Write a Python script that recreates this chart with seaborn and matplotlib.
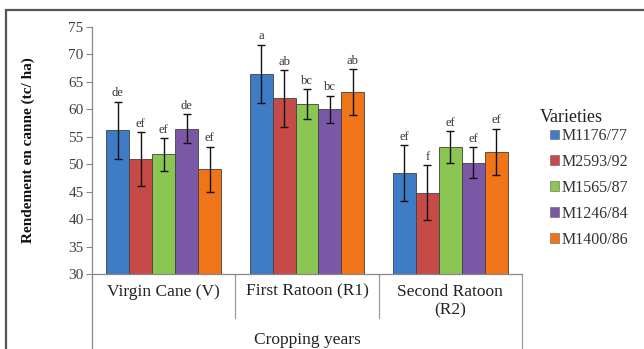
import matplotlib
matplotlib.use("Agg")
import matplotlib.pyplot as plt
import seaborn as sns
import pandas as pd
import numpy as np
from matplotlib.patches import Rectangle, Patch
import matplotlib.transforms as mtransforms

years = ["Virgin Cane (V)", "First Ratoon (R1)", "Second Ratoon\n(R2)"]
varieties = ["M1176/77", "M2593/92", "M1565/87", "M1246/84", "M1400/86"]
# yield per variety, in order of years
m1176 = [56.2, 66.5, 48.4]
m2593 = [50.9, 62.0, 44.8]
m1565 = [51.8, 61.0, 53.2]
m1246 = [56.5, 60.0, 50.3]
m1400 = [49.1, 63.2, 52.3]
# error (half-length)
e1176 = [5.2, 5.3, 5.1]
e2593 = [4.9, 5.2, 5.0]
e1565 = [3.0, 2.7, 2.9]
e1246 = [2.7, 2.5, 2.8]
e1400 = [4.1, 4.2, 4.2]
# significance letters
l1176 = ["de", "a", "ef"]
l2593 = ["ef", "ab", "f"]
l1565 = ["ef", "bc", "ef"]
l1246 = ["de", "bc", "ef"]
l1400 = ["ef", "ab", "ef"]

values = [m1176, m2593, m1565, m1246, m1400]
errors = [e1176, e2593, e1565, e1246, e1400]
letters = [l1176, l2593, l1565, l1246, l1400]

rows = []
for v, vals in zip(varieties, values):
    for y, val in zip(years, vals):
        rows.append({"year": y, "variety": v, "value": val})
df = pd.DataFrame(rows)

colors = ["#3F7CC6", "#C64A47", "#8BC653", "#7B58A6", "#F07418"]

sns.set_theme(style="white")
plt.rcParams["font.family"] = ["Liberation Serif", "DejaVu Serif"]

fig = plt.figure(figsize=(6.44, 3.49), dpi=100)
L, R, B, T = 92, 522, 274, 27
ax = fig.add_axes([L / 644, 1 - B / 349, (R - L) / 644, (B - T) / 349])

sns.barplot(data=df, x="year", y="value", hue="variety", order=years,
            hue_order=varieties, palette=colors, saturation=1, errorbar=None,
            width=0.8, gap=0, edgecolor="#404040", linewidth=0.6,
            legend=False, ax=ax)

for cont, errs, labs in zip(ax.containers, errors, letters):
    for bar, err, lab in zip(cont, errs, labs):
        xc = bar.get_x() + bar.get_width() / 2
        h = bar.get_height()
        ax.errorbar(xc, h, yerr=err, fmt="none", ecolor="#111111",
                    elinewidth=1.0, capsize=3, capthick=1.0)
        ax.text(xc, h + err + 0.4, lab, ha="center", va="bottom",
                fontsize=9, color="#333333")

ax.set_ylim(30, 75)
ax.set_xlim(-0.5, 2.5)
ax.set_yticks(np.arange(30, 76, 5))
ax.tick_params(axis="y", which="both", left=True, length=4, width=0.8,
               color="#888888", labelsize=11, labelcolor="#404040", pad=2)
ax.tick_params(axis="x", length=0, labelsize=12.5, labelcolor="#222222", pad=7)
ax.set_xlabel("")
ax.set_ylabel("Rendement en canne (tc/ ha)", fontsize=11, fontweight="bold",
              color="#111111")
ax.yaxis.set_label_coords(-0.133, 0.5)

for s in ["top", "right"]:
    ax.spines[s].set_visible(False)
ax.spines["left"].set_color("#888888")
ax.spines["bottom"].set_color("#888888")
ax.spines["left"].set_linewidth(0.9)
ax.spines["bottom"].set_linewidth(0.9)

# multi-level category axis lines
tr = mtransforms.blended_transform_factory(ax.transData, ax.transAxes)
for xs in [0.5, 1.5]:
    ax.plot([xs, xs], [0, -0.18], transform=tr, color="#999999", lw=0.9,
            clip_on=False)
ax.plot([-0.5, -0.5], [0, -0.32], transform=tr, color="#888888", lw=0.9,
        clip_on=False)
ax.plot([2.5, 2.5], [0, -0.32], transform=tr, color="#999999", lw=0.9,
        clip_on=False)
ax.text(0.5, -0.267, "Cropping years", transform=ax.transAxes, ha="center",
        va="center", fontsize=12.5, color="#222222")

# legend
handles = [Patch(facecolor=c, edgecolor="#606060", linewidth=0.4) for c in colors]
leg = fig.legend(handles, varieties, loc="upper left",
                 bbox_to_anchor=(550 / 644, 1 - 128 / 349), frameon=False,
                 fontsize=11.5, handlelength=0.55, handleheight=0.55,
                 handletextpad=0.15, labelspacing=0.62, borderaxespad=0,
                 borderpad=0)
for t in leg.get_texts():
    t.set_color("#333333")
fig.text(540 / 644, 1 - 117 / 349, "Varieties", ha="left", va="center",
         fontsize=13, color="#222222")

# outer frame
fig.patches.append(Rectangle((6 / 644, -0.1), 1.2, 1 - 10 / 349 + 0.1,
                             transform=fig.transFigure, fill=False,
                             edgecolor="#555555", linewidth=1.6))

fig.savefig("out.png", dpi=100, facecolor="white")
